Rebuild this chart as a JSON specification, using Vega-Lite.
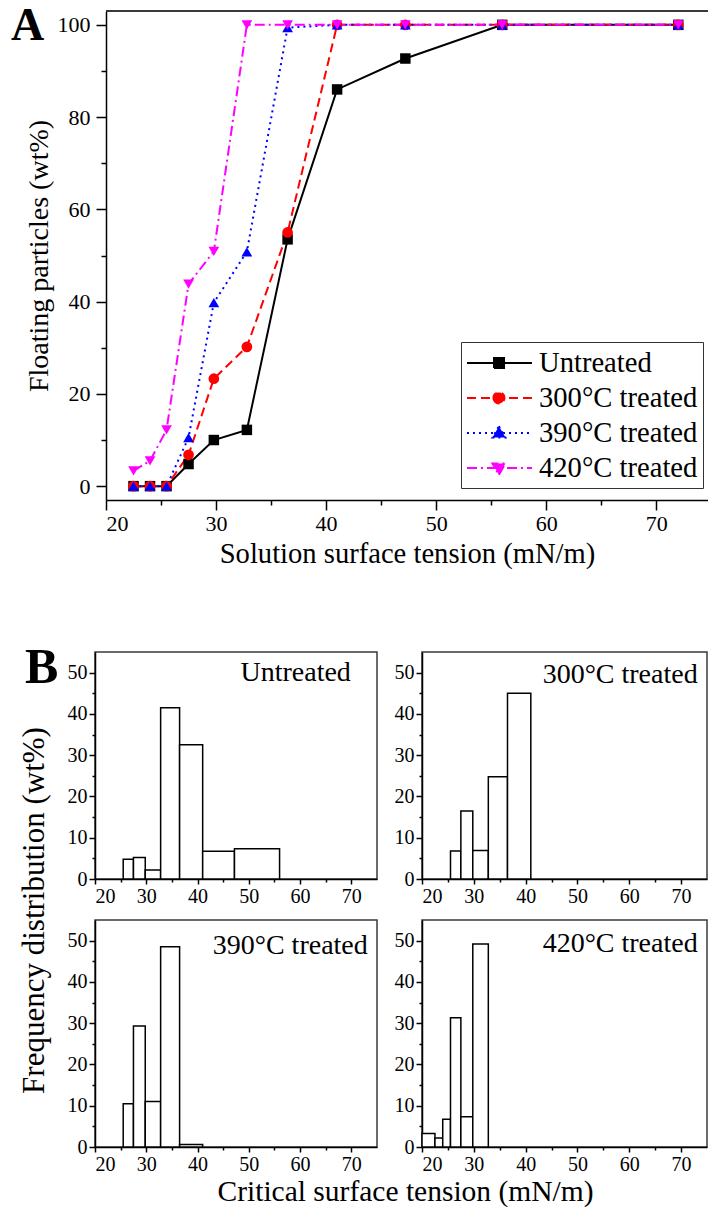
{
  "$schema": "https://vega.github.io/schema/vega-lite/v6.json",
  "padding": {"left": 11, "top": 3, "right": 0, "bottom": 0},
  "autosize": {"type": "pad"},
  "background": "white",
  "config": {
    "font": "Liberation Serif",
    "view": {"stroke": "#3a3a3a", "strokeWidth": 1.5},
    "axis": {"domainColor": "#000000", "domainWidth": 1.5, "tickColor": "#000000", "tickWidth": 1.5, "labelColor": "#000000", "titleColor": "#000000", "labelFont": "Liberation Serif", "titleFont": "Liberation Serif", "titleFontWeight": "normal", "grid": false},
    "legend": {"labelFont": "Liberation Serif"},
    "title": {"font": "Liberation Serif", "fontWeight": "bold", "color": "#000000"}
  },
  "datasets": {
    "curves": [
      {"s": "Untreated", "x": 22.5, "y": 0}, {"s": "Untreated", "x": 24, "y": 0}, {"s": "Untreated", "x": 25.5, "y": 0}, {"s": "Untreated", "x": 27.5, "y": 4.8}, {"s": "Untreated", "x": 29.8, "y": 10.0}, {"s": "Untreated", "x": 32.8, "y": 12.2}, {"s": "Untreated", "x": 36.5, "y": 53.5}, {"s": "Untreated", "x": 41, "y": 86.0}, {"s": "Untreated", "x": 47.2, "y": 92.7}, {"s": "Untreated", "x": 56, "y": 100}, {"s": "Untreated", "x": 72, "y": 100},
      {"s": "300°C treated", "x": 22.5, "y": 0}, {"s": "300°C treated", "x": 24, "y": 0}, {"s": "300°C treated", "x": 25.5, "y": 0}, {"s": "300°C treated", "x": 27.5, "y": 6.8}, {"s": "300°C treated", "x": 29.8, "y": 23.3}, {"s": "300°C treated", "x": 32.8, "y": 30.2}, {"s": "300°C treated", "x": 36.5, "y": 55.0}, {"s": "300°C treated", "x": 41, "y": 100}, {"s": "300°C treated", "x": 47.2, "y": 100}, {"s": "300°C treated", "x": 56, "y": 100}, {"s": "300°C treated", "x": 72, "y": 100},
      {"s": "390°C treated", "x": 22.5, "y": 0}, {"s": "390°C treated", "x": 24, "y": 0}, {"s": "390°C treated", "x": 25.5, "y": 0}, {"s": "390°C treated", "x": 27.5, "y": 10.5}, {"s": "390°C treated", "x": 29.8, "y": 39.8}, {"s": "390°C treated", "x": 32.8, "y": 50.8}, {"s": "390°C treated", "x": 36.5, "y": 99.4}, {"s": "390°C treated", "x": 41, "y": 100}, {"s": "390°C treated", "x": 47.2, "y": 100}, {"s": "390°C treated", "x": 56, "y": 100}, {"s": "390°C treated", "x": 72, "y": 100},
      {"s": "420°C treated", "x": 22.5, "y": 3.3}, {"s": "420°C treated", "x": 24, "y": 5.5}, {"s": "420°C treated", "x": 25.5, "y": 12.2}, {"s": "420°C treated", "x": 27.5, "y": 43.8}, {"s": "420°C treated", "x": 29.8, "y": 50.9}, {"s": "420°C treated", "x": 32.8, "y": 100}, {"s": "420°C treated", "x": 36.5, "y": 100}, {"s": "420°C treated", "x": 41, "y": 100}, {"s": "420°C treated", "x": 47.2, "y": 100}, {"s": "420°C treated", "x": 56, "y": 100}, {"s": "420°C treated", "x": 72, "y": 100}
    ],
    "hist": [
      {"p": "Untreated", "x0": 25.5, "x1": 27.5, "v": 4.8}, {"p": "Untreated", "x0": 27.5, "x1": 29.8, "v": 5.2}, {"p": "Untreated", "x0": 29.8, "x1": 32.8, "v": 2.2}, {"p": "Untreated", "x0": 32.8, "x1": 36.5, "v": 41.5}, {"p": "Untreated", "x0": 36.5, "x1": 41, "v": 32.5}, {"p": "Untreated", "x0": 41, "x1": 47.2, "v": 6.7}, {"p": "Untreated", "x0": 47.2, "x1": 56, "v": 7.3},
      {"p": "300", "x0": 25.5, "x1": 27.5, "v": 6.8}, {"p": "300", "x0": 27.5, "x1": 29.8, "v": 16.5}, {"p": "300", "x0": 29.8, "x1": 32.8, "v": 6.9}, {"p": "300", "x0": 32.8, "x1": 36.5, "v": 24.8}, {"p": "300", "x0": 36.5, "x1": 41, "v": 45.0},
      {"p": "390", "x0": 25.5, "x1": 27.5, "v": 10.5}, {"p": "390", "x0": 27.5, "x1": 29.8, "v": 29.3}, {"p": "390", "x0": 29.8, "x1": 32.8, "v": 11.0}, {"p": "390", "x0": 32.8, "x1": 36.5, "v": 48.5}, {"p": "390", "x0": 36.5, "x1": 41, "v": 0.6},
      {"p": "420", "x0": 20, "x1": 22.5, "v": 3.3}, {"p": "420", "x0": 22.5, "x1": 24, "v": 2.2}, {"p": "420", "x0": 24, "x1": 25.5, "v": 6.7}, {"p": "420", "x0": 25.5, "x1": 27.5, "v": 31.3}, {"p": "420", "x0": 27.5, "x1": 29.8, "v": 7.3}, {"p": "420", "x0": 29.8, "x1": 32.8, "v": 49.2}
    ],
    "labels": [
      {"p": "Untreated", "t": "Untreated"}, {"p": "300", "t": "300°C treated"}, {"p": "390", "t": "390°C treated"}, {"p": "420", "t": "420°C treated"}
    ]
  },
  "columns": 1,
  "spacing": 73,
  "concat": [
    {
      "width": 613,
      "height": 489,
      "view": {"stroke": null},
      "title": {"text": "A", "anchor": "start", "frame": "group", "dx": -84, "dy": 40, "fontSize": 46, "offset": 0},
      "data": {"name": "curves"},
      "encoding": {
        "x": {"field": "x", "type": "quantitative", "scale": {"domain": [20, 74.7], "range": [11, 613], "nice": false, "zero": false},
          "axis": {"values": [20, 25, 30, 35, 40, 45, 50, 55, 60, 65, 70], "labelExpr": "datum.value % 10 === 0 ? datum.label : ''", "tickSize": {"condition": {"test": "datum.value % 10 !== 0", "value": 5}, "value": 10}, "labelFontSize": 22, "labelPadding": 3, "title": "Solution surface tension (mN/m)", "titleFontSize": 28.6, "titlePadding": 5}},
        "y": {"field": "y", "type": "quantitative", "scale": {"domain": [-3, 103], "nice": false, "zero": false},
          "axis": {"offset": -11, "values": [0, 10, 20, 30, 40, 50, 60, 70, 80, 90, 100], "labelExpr": "datum.value % 20 === 0 ? datum.label : ''", "tickSize": {"condition": {"test": "datum.value % 20 !== 0", "value": 5}, "value": 10}, "labelFontSize": 22, "labelPadding": 6, "title": "Floating particles (wt%)", "titleFontSize": 28, "titlePadding": 4}}
      },
      "layer": [
        {"mark": {"type": "rule", "color": "#3a3a3a", "strokeWidth": 1.5}, "encoding": {"x": {"datum": 20}, "x2": {"datum": 74.7}, "y": {"datum": 103}}},
        {"transform": [{"filter": "datum.s === 'Untreated'"}], "mark": {"type": "line", "color": "#000000", "strokeWidth": 2}},
        {"transform": [{"filter": "datum.s === '300°C treated'"}], "mark": {"type": "line", "color": "#ff0000", "strokeWidth": 2, "strokeDash": [9, 5]}},
        {"transform": [{"filter": "datum.s === '390°C treated'"}], "mark": {"type": "line", "color": "#0000ff", "strokeWidth": 2, "strokeDash": [2, 4]}},
        {"transform": [{"filter": "datum.s === '420°C treated'"}], "mark": {"type": "line", "color": "#ff00ff", "strokeWidth": 2, "strokeDash": [10, 4, 2, 4]}},
        {"transform": [{"filter": "datum.s === 'Untreated'"}], "mark": {"type": "point", "shape": "square", "filled": true, "opacity": 1, "size": 110, "color": "#000000"}},
        {"transform": [{"filter": "datum.s === '300°C treated'"}], "mark": {"type": "point", "shape": "circle", "filled": true, "opacity": 1, "size": 115, "color": "#ff0000"}},
        {"transform": [{"filter": "datum.s === '390°C treated'"}], "mark": {"type": "point", "shape": "triangle-up", "filled": true, "opacity": 1, "size": 115, "color": "#0000ff"}},
        {"transform": [{"filter": "datum.s === '420°C treated'"}], "mark": {"type": "point", "shape": "triangle-down", "filled": true, "opacity": 1, "size": 115, "color": "#ff00ff"}},
        {
          "mark": {"type": "point", "filled": true, "opacity": 0, "size": 900},
          "encoding": {
            "color": {"field": "s", "type": "nominal", "scale": {"domain": ["Untreated", "300°C treated", "390°C treated", "420°C treated"], "range": ["#000000", "#ff0000", "#0000ff", "#ff00ff"]}, "legend": {"orient": "none", "legendX": 366, "legendY": 331, "title": null, "strokeColor": "#333333", "fillColor": "white", "padding": 5, "labelFontSize": 28.6, "labelFont": "Liberation Serif", "labelColor": "#000000", "labelLimit": 400, "symbolSize": 900, "symbolStrokeWidth": 2, "symbolOpacity": 1, "labelOffset": 41, "rowPadding": 4}},
            "stroke": {"field": "s", "type": "nominal", "scale": {"domain": ["Untreated", "300°C treated", "390°C treated", "420°C treated"], "range": ["#000000", "#ff0000", "#0000ff", "#ff00ff"]}, "legend": {"orient": "none", "legendX": 366, "legendY": 331, "title": null, "strokeColor": "#333333", "fillColor": "white", "padding": 5, "labelFontSize": 28.6, "labelFont": "Liberation Serif", "labelColor": "#000000", "labelLimit": 400, "symbolSize": 900, "symbolStrokeWidth": 2, "symbolOpacity": 1, "labelOffset": 41, "rowPadding": 4}},
            "strokeDash": {"field": "s", "type": "nominal", "scale": {"domain": ["Untreated", "300°C treated", "390°C treated", "420°C treated"], "range": [[1, 0], [9, 5], [2, 4], [10, 4, 2, 4]]}, "legend": {"orient": "none", "legendX": 366, "legendY": 331, "title": null, "strokeColor": "#333333", "fillColor": "white", "padding": 5, "labelFontSize": 28.6, "labelFont": "Liberation Serif", "labelColor": "#000000", "labelLimit": 400, "symbolSize": 900, "symbolStrokeWidth": 2, "symbolOpacity": 1, "labelOffset": 41, "rowPadding": 4}},
            "shape": {"field": "s", "type": "nominal", "scale": {"domain": ["Untreated", "300°C treated", "390°C treated", "420°C treated"], "range": ["M-1,0H3.33M0.8,-0.33H1.47V0.33H0.8Z", "M-1,0H3.33M0.763,0A0.367,0.367,0,1,0,1.497,0A0.367,0.367,0,1,0,0.763,0Z", "M-1,0H3.33M1.13,-0.45L1.563,0.3L0.697,0.3Z", "M-1,0H3.33M1.13,0.45L1.563,-0.3L0.697,-0.3Z"]}, "legend": {"orient": "none", "legendX": 366, "legendY": 331, "title": null, "strokeColor": "#333333", "fillColor": "white", "padding": 5, "labelFontSize": 28.6, "labelFont": "Liberation Serif", "labelColor": "#000000", "labelLimit": 400, "symbolSize": 900, "symbolStrokeWidth": 2, "symbolOpacity": 1, "labelOffset": 41, "rowPadding": 4}}
          }
        }
      ]
    },
    {
      "columns": 2,
      "spacing": {"row": 41, "column": 45},
      "bounds": "flush",
      "align": "each",
      "concat": [
        {
          "width": 282, "height": 227,
          "title": {"text": "B", "anchor": "start", "frame": "group", "dx": -70, "dy": 40.6, "fontSize": 50, "offset": 0},
          "encoding": {
            "x": {"type": "quantitative", "scale": {"domain": [20, 75], "nice": false, "zero": false}, "axis": {"values": [20, 25, 30, 35, 40, 45, 50, 55, 60, 65, 70], "labelExpr": "datum.value % 10 === 0 ? datum.label : ''", "tickSize": {"condition": {"test": "datum.value % 10 !== 0", "value": 3}, "value": 5}, "labelFontSize": 20, "labelPadding": 2, "title": null}},
            "y": {"type": "quantitative", "scale": {"domain": [0, 55], "nice": false, "zero": false}, "axis": {"values": [0, 5, 10, 15, 20, 25, 30, 35, 40, 45, 50], "labelExpr": "datum.value % 10 === 0 ? datum.label : ''", "tickSize": {"condition": {"test": "datum.value % 10 !== 0", "value": 3}, "value": 6}, "labelFontSize": 20, "labelPadding": 2, "title": null}}
          },
          "layer": [
            {"data": {"name": "hist"}, "transform": [{"filter": "datum.p === 'Untreated'"}], "mark": {"type": "rect", "fill": "white", "stroke": "#000000", "strokeWidth": 1.5}, "encoding": {"x": {"field": "x0"}, "x2": {"field": "x1"}, "y": {"field": "v"}, "y2": {"datum": 0}}},
            {"data": {"name": "labels"}, "transform": [{"filter": "datum.p === 'Untreated'"}], "mark": {"type": "text", "align": "right", "baseline": "middle", "fontSize": 28, "font": "Liberation Serif", "color": "#000000"}, "encoding": {"text": {"field": "t"}, "x": {"datum": 69.9}, "y": {"datum": 49.8}}}
          ]
        },
        {
          "width": 285, "height": 227,
          "encoding": {
            "x": {"type": "quantitative", "scale": {"domain": [20, 75], "nice": false, "zero": false}, "axis": {"values": [20, 25, 30, 35, 40, 45, 50, 55, 60, 65, 70], "labelExpr": "datum.value % 10 === 0 ? datum.label : ''", "tickSize": {"condition": {"test": "datum.value % 10 !== 0", "value": 3}, "value": 5}, "labelFontSize": 20, "labelPadding": 2, "title": null}},
            "y": {"type": "quantitative", "scale": {"domain": [0, 55], "nice": false, "zero": false}, "axis": {"values": [0, 5, 10, 15, 20, 25, 30, 35, 40, 45, 50], "labelExpr": "datum.value % 10 === 0 ? datum.label : ''", "tickSize": {"condition": {"test": "datum.value % 10 !== 0", "value": 3}, "value": 6}, "labelFontSize": 20, "labelPadding": 2, "title": null}}
          },
          "layer": [
            {"data": {"name": "hist"}, "transform": [{"filter": "datum.p === '300'"}], "mark": {"type": "rect", "fill": "white", "stroke": "#000000", "strokeWidth": 1.5}, "encoding": {"x": {"field": "x0"}, "x2": {"field": "x1"}, "y": {"field": "v"}, "y2": {"datum": 0}}},
            {"data": {"name": "labels"}, "transform": [{"filter": "datum.p === '300'"}], "mark": {"type": "text", "align": "right", "baseline": "middle", "fontSize": 28, "font": "Liberation Serif", "color": "#000000"}, "encoding": {"text": {"field": "t"}, "x": {"datum": 73.2}, "y": {"datum": 49.5}}}
          ]
        },
        {
          "width": 282, "height": 227,
          "encoding": {
            "x": {"type": "quantitative", "scale": {"domain": [20, 75], "nice": false, "zero": false}, "axis": {"values": [20, 25, 30, 35, 40, 45, 50, 55, 60, 65, 70], "labelExpr": "datum.value % 10 === 0 ? datum.label : ''", "tickSize": {"condition": {"test": "datum.value % 10 !== 0", "value": 3}, "value": 5}, "labelFontSize": 20, "labelPadding": 2, "title": null}},
            "y": {"type": "quantitative", "scale": {"domain": [0, 55], "nice": false, "zero": false}, "axis": {"values": [0, 5, 10, 15, 20, 25, 30, 35, 40, 45, 50], "labelExpr": "datum.value % 10 === 0 ? datum.label : ''", "tickSize": {"condition": {"test": "datum.value % 10 !== 0", "value": 3}, "value": 6}, "labelFontSize": 20, "labelPadding": 2, "title": "Frequency distribution (wt%)", "titleFontSize": 31, "titleX": -61, "titleY": -10, "titleAngle": -90, "titleBaseline": "middle", "titleAlign": "center"}}
          },
          "layer": [
            {"data": {"name": "hist"}, "transform": [{"filter": "datum.p === '390'"}], "mark": {"type": "rect", "fill": "white", "stroke": "#000000", "strokeWidth": 1.5}, "encoding": {"x": {"field": "x0"}, "x2": {"field": "x1"}, "y": {"field": "v"}, "y2": {"datum": 0}}},
            {"data": {"name": "labels"}, "transform": [{"filter": "datum.p === '390'"}], "mark": {"type": "text", "align": "right", "baseline": "middle", "fontSize": 28, "font": "Liberation Serif", "color": "#000000"}, "encoding": {"text": {"field": "t"}, "x": {"datum": 73.2}, "y": {"datum": 48.7}}}
          ]
        },
        {
          "width": 285, "height": 227,
          "encoding": {
            "x": {"type": "quantitative", "scale": {"domain": [20, 75], "nice": false, "zero": false}, "axis": {"values": [20, 25, 30, 35, 40, 45, 50, 55, 60, 65, 70], "labelExpr": "datum.value % 10 === 0 ? datum.label : ''", "tickSize": {"condition": {"test": "datum.value % 10 !== 0", "value": 3}, "value": 5}, "labelFontSize": 20, "labelPadding": 2, "title": "Critical surface tension (mN/m)", "titleFontSize": 29.5, "titleX": -17, "titleY": 30, "titleBaseline": "top", "titleAlign": "center"}},
            "y": {"type": "quantitative", "scale": {"domain": [0, 55], "nice": false, "zero": false}, "axis": {"values": [0, 5, 10, 15, 20, 25, 30, 35, 40, 45, 50], "labelExpr": "datum.value % 10 === 0 ? datum.label : ''", "tickSize": {"condition": {"test": "datum.value % 10 !== 0", "value": 3}, "value": 6}, "labelFontSize": 20, "labelPadding": 2, "title": null}}
          },
          "layer": [
            {"data": {"name": "hist"}, "transform": [{"filter": "datum.p === '420'"}], "mark": {"type": "rect", "fill": "white", "stroke": "#000000", "strokeWidth": 1.5}, "encoding": {"x": {"field": "x0"}, "x2": {"field": "x1"}, "y": {"field": "v"}, "y2": {"datum": 0}}},
            {"data": {"name": "labels"}, "transform": [{"filter": "datum.p === '420'"}], "mark": {"type": "text", "align": "right", "baseline": "middle", "fontSize": 28, "font": "Liberation Serif", "color": "#000000"}, "encoding": {"text": {"field": "t"}, "x": {"datum": 73.2}, "y": {"datum": 49.2}}}
          ]
        }
      ]
    }
  ]
}
